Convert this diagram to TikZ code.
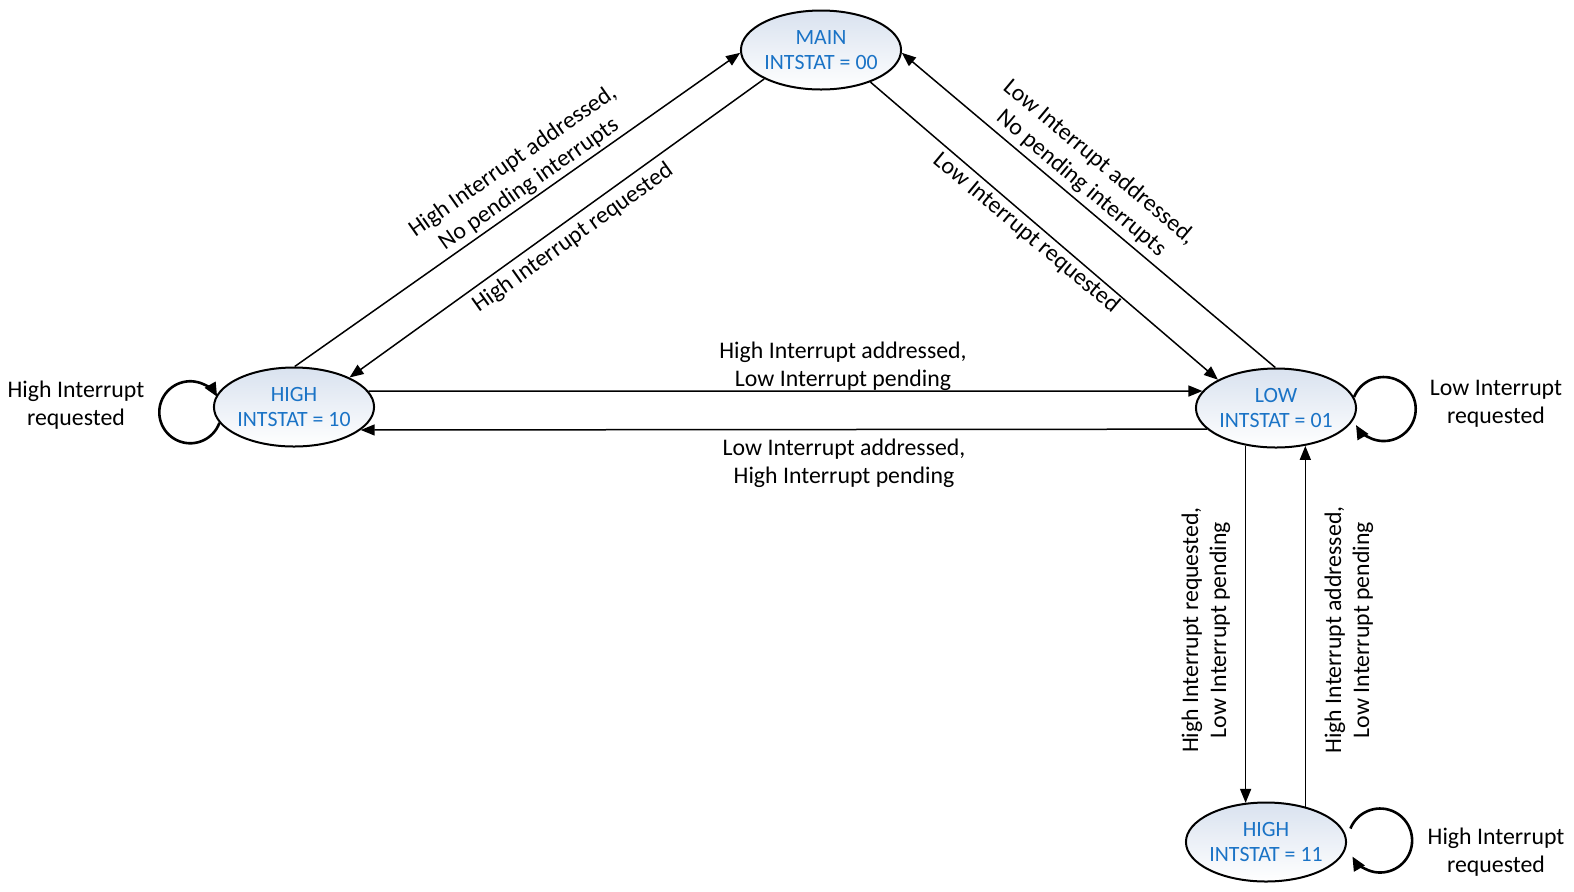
\documentclass[tikz,border=0pt]{standalone}
\usepackage{fontspec}
\setmainfont{Carlito}
\usetikzlibrary{arrows.meta,shapes.geometric}
\definecolor{stblue}{HTML}{1A73C6}
\definecolor{sttop}{HTML}{D9E2EF}
\begin{document}
\begin{tikzpicture}[x=0.5pt,y=-0.5pt,
  state/.style={ellipse, draw=black, line width=1pt, top color=sttop, bottom color=white,
    minimum width=78.5pt, minimum height=39.5pt, inner sep=0pt, align=center,
    text=stblue, font=\fontsize{10.9}{12.5}\selectfont},
  lbl/.style={align=center, inner sep=0pt, font=\fontsize{11.9}{14}\selectfont},
  edge/.style={line width=0.75pt, -{Triangle[length=7pt,width=5.5pt]}},
  loopedge/.style={line width=1.3pt, -{Triangle[length=7pt,width=6pt]}}]
\useasboundingbox (0,0) rectangle (1574,891);

\node[state] (main) at (821,50) {MAIN\\INTSTAT = 00};
\node[state] (high) at (294,407) {HIGH\\INTSTAT = 10};
\node[state] (low) at (1276,408) {LOW\\INTSTAT = 01};
\node[state] (hh) at (1266,842) {HIGH\\INTSTAT = 11};

\draw[edge] (high.89) -- (main.182);
\draw[edge] (main.207) -- (high.28);
\draw[edge] (main.327) -- (low.154);
\draw[edge] (low.91) -- (main.358);
\draw[edge] (high.12) -- (low.167);
\draw[edge] (low.197) -- (high.341);
\draw[edge] (low.231) -- (low.231 |- hh.118);
\draw[edge] (hh.42) -- (hh.42 |- low.307);

\draw[loopedge] (high.192) arc[start angle=20, end angle=330, radius=31];
\draw[loopedge] (low.8) arc[start angle=202, end angle=510, radius=32];
\draw[loopedge] ([xshift=4pt]hh.10) arc[start angle=202, end angle=510, radius=32];

\node[lbl, rotate=35] (l1) at (521,173) {High Interrupt addressed,\\No pending interrupts};
\node[lbl, rotate=35.5] (l2) at (573,238) {High Interrupt requested};
\node[lbl, rotate=-40] (l3) at (1026,233) {Low Interrupt requested};
\node[lbl, rotate=-40] (l4) at (1090,173) {Low Interrupt addressed,\\No pending interrupts};
\node[lbl] (l5) at (843,366) {High Interrupt addressed,\\Low Interrupt pending};
\node[lbl] (l6) at (844,463) {Low Interrupt addressed,\\High Interrupt pending};
\node[lbl, rotate=90] (l7) at (1206,630) {High Interrupt requested,\\Low Interrupt pending};
\node[lbl, rotate=90] (l8) at (1349,630) {High Interrupt addressed,\\Low Interrupt pending};
\node[lbl] (l9) at (76,405) {High Interrupt\\requested};
\node[lbl] (l10) at (1496,404) {Low Interrupt\\requested};
\node[lbl] (l11) at (1496,852) {High Interrupt\\requested};
\end{tikzpicture}
\end{document}
